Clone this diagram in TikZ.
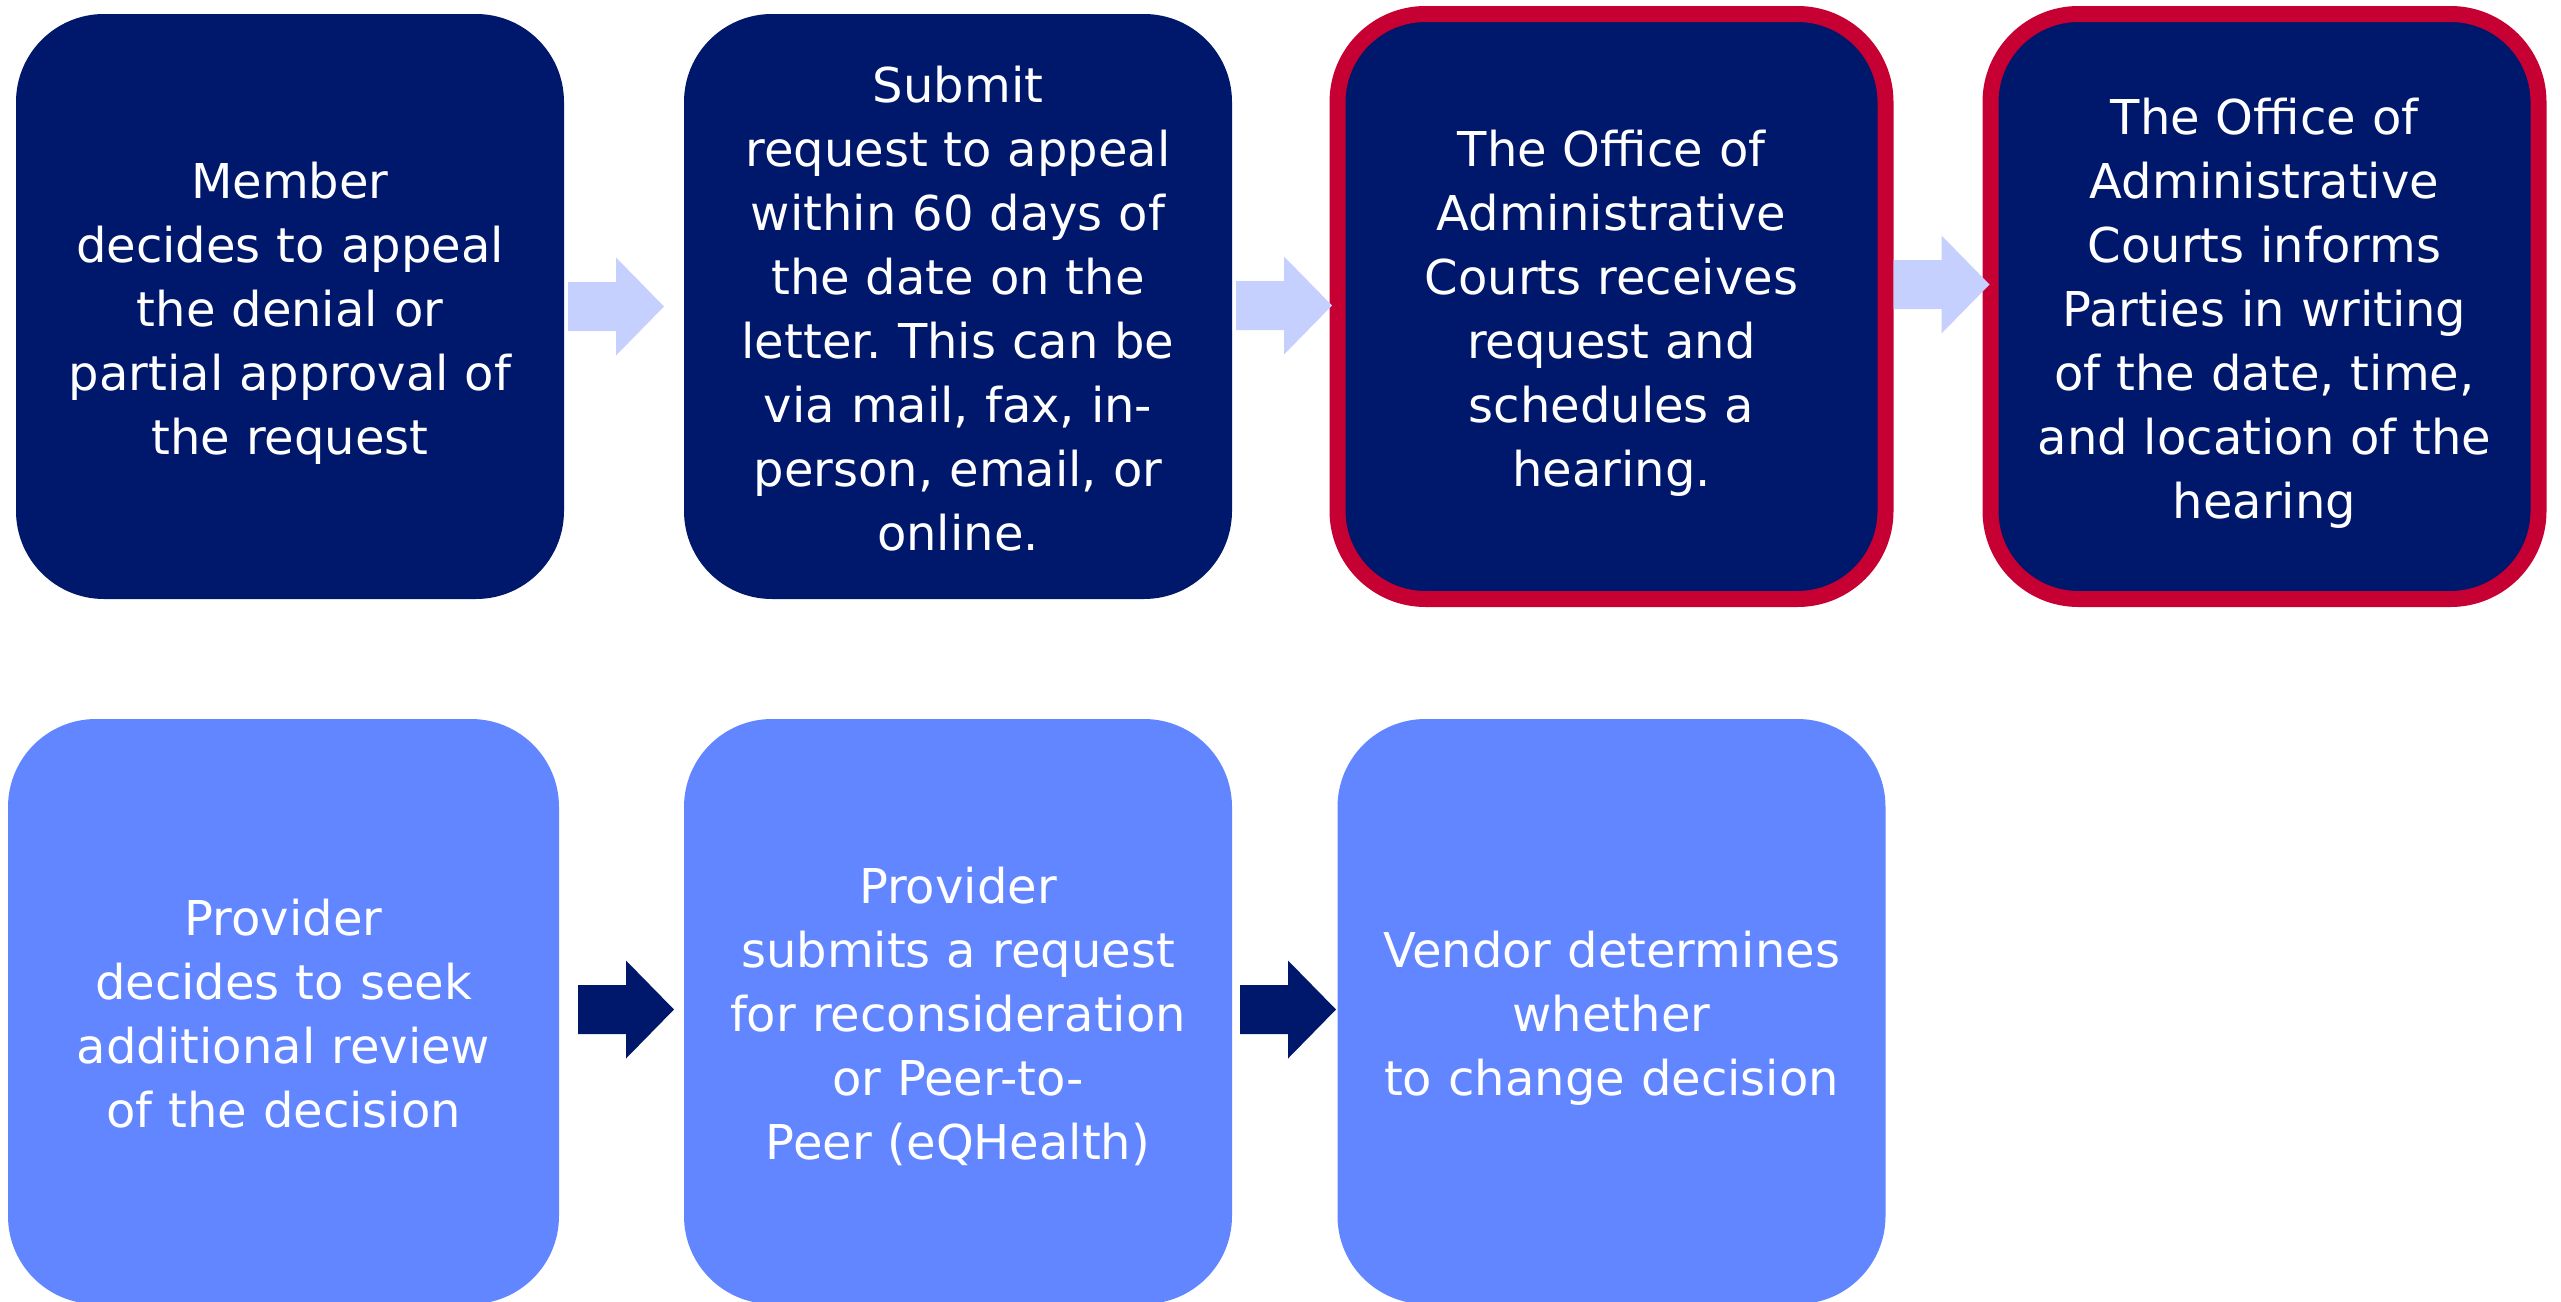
\documentclass[tikz,border=0pt]{standalone}
\usepackage{fontspec}
\setmainfont{DejaVu Sans}
\frenchspacing
\usetikzlibrary{calc}
\definecolor{navy}{RGB}{0,24,108}
\definecolor{redb}{RGB}{198,0,50}
\definecolor{lightarr}{RGB}{197,208,255}
\definecolor{midblue}{RGB}{98,134,255}
\tikzset{
  stepbox/.style={rectangle, rounded corners=88pt, minimum width=548pt, minimum height=585pt,
    text width=530pt, align=center, text=white, inner sep=0pt, outer sep=0pt,
    font=\fontsize{48}{64}\selectfont,
    execute at begin node={\rule{0pt}{51pt}},
    execute at end node={\rule[-12pt]{0pt}{12pt}}},
  darkbox/.style={stepbox, fill=navy},
  redbox/.style={stepbox, fill=navy, draw=redb, line width=16pt},
  lightbox/.style={stepbox, fill=midblue},
  blockarr/.pic={\fill (0,-24.5) -- (48,-24.5) -- (48,-49) -- (96,0) -- (48,49) -- (48,24.5) -- (0,24.5) -- cycle;}
}
\begin{document}
\begin{tikzpicture}[x=1pt,y=-1pt]
\clip (0,0) rectangle (2561,1301);
\fill[white] (0,0) rectangle (2561,1301);
% top row
\node[darkbox] (b1) at (290,306.5) {Member\\decides to appeal\\the denial or\\partial approval of\\the request};
\node[darkbox] (b2) at (958,306.5) {Submit\\request to appeal\\within 60 days of\\the date on the\\letter. This can be\\via mail, fax, in-\\person, email, or\\online.};
\node[redbox] (b3) at (1611.5,306.5) {The Office of\\Administrative\\Courts receives\\request and\\schedules a\\hearing.};
\node[redbox] (b4) at (2264.5,306.5) {The Office of\\Administrative\\Courts informs\\Parties in writing\\of the date, time,\\and location of the\\hearing};
% bottom row
\node[lightbox, minimum width=551pt] (b5) at (283.5,1011.5) {Provider\\decides to seek\\additional review\\of the decision};
\node[lightbox] (b6) at (958,1011.5) {Provider\\submits a request\\for reconsideration\\or Peer-to-\\Peer (eQHealth)};
\node[lightbox] (b7) at (1611.5,1011.5) {Vendor determines\\whether\\to change decision};
% arrows
\pic[fill=lightarr] at ($(b1.east)+(4,0)$) {blockarr};
\pic[fill=lightarr] at ($(b2.east)+(4,-1)$) {blockarr};
\pic[fill=lightarr] at ($(b3.east)+(8,-22)$) {blockarr};
\pic[fill=navy] at ($(b5.east)+(19,-2)$) {blockarr};
\pic[fill=navy] at ($(b6.east)+(8,-2)$) {blockarr};
\end{tikzpicture}
\end{document}
